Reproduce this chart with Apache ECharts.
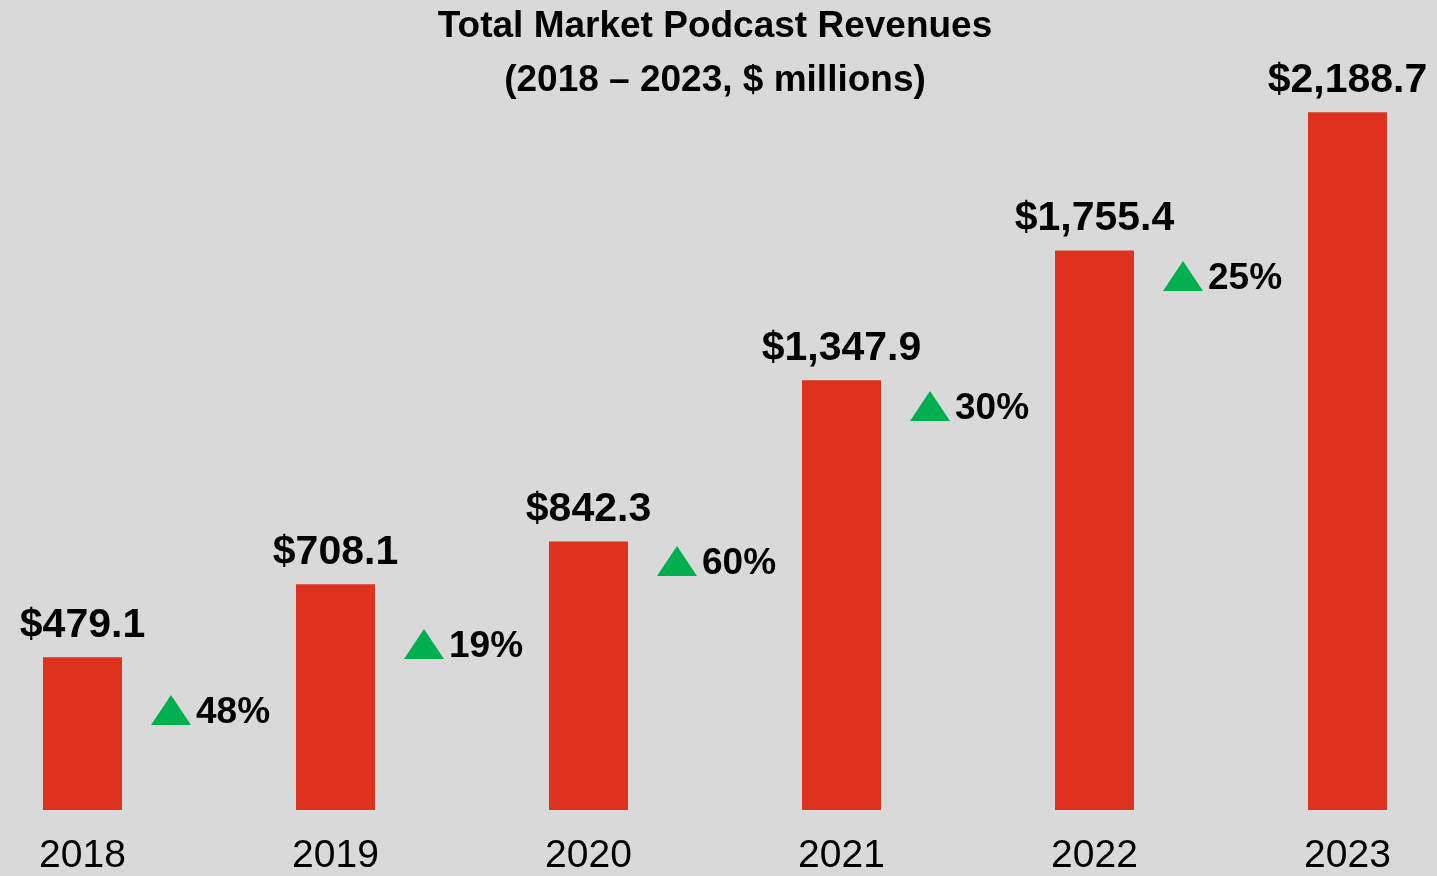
<!DOCTYPE html>
<html lang="en">
<head>
  <meta charset="UTF-8">
  <title>Total Market Podcast Revenues</title>
  <style>
    html, body {
      margin: 0;
      padding: 0;
      background: #d9d9d9;
      overflow: hidden;
    }
    /* the outer bands of the first/last year run past the page edge */
    #chart {
      width: 1518px;
      height: 876px;
      margin-left: -44.5px;
    }
  </style>
</head>
<body>
  <div id="chart"></div>
  <script src="https://cdn.jsdelivr.net/npm/echarts@6/dist/echarts.min.js"></script>
  <script>
    // data
    var years = ['2018', '2019', '2020', '2021', '2022', '2023']
    var revenues = [479.1, 708.1, 842.3, 1347.9, 1755.4, 2188.7]
    // year-over-year growth, shown between bars
    var growthPct = [48, 19, 60, 30, 25]
    // height (in $ millions) where each growth tag sits
    var growthLevel = [314, 521, 781, 1267, 1675]

    var font = "'Liberation Sans', Arial, Helvetica, sans-serif"

    var growthData = growthPct.map(function (p, i) {
      return { value: [i + 0.5, growthLevel[i]], pct: p }
    })

    var myChart = echarts.init(document.getElementById('chart'))
    var option = {
      backgroundColor: '#d9d9d9',
      animation: false,
      title: {
        text: 'Total Market Podcast Revenues\n(2018 – 2023, $ millions)',
        left: 'center',
        top: -5,
        textStyle: {
          fontFamily: font,
          fontSize: 37,
          fontWeight: 'bold',
          lineHeight: 54,
          color: '#000'
        }
      },
      grid: {
        left: 0,
        right: 0,
        top: 13,
        bottom: 66
      },
      xAxis: [
        {
          type: 'category',
          data: years,
          axisLine: { show: false },
          axisTick: { show: false },
          axisLabel: {
            margin: 27,
            fontFamily: font,
            fontSize: 39,
            color: '#000'
          }
        },
        {
          // helper axis so the growth tags can sit between two years
          type: 'value',
          min: -0.5,
          max: 5.5,
          show: false
        }
      ],
      yAxis: {
        type: 'value',
        min: 0,
        max: 2500,
        show: false,
        splitLine: { show: false }
      },
      series: [
        {
          type: 'bar',
          data: revenues,
          barWidth: 79,
          itemStyle: { color: '#df321e' },
          label: {
            show: true,
            position: 'top',
            distance: 11,
            fontFamily: font,
            fontSize: 41,
            fontWeight: 'bold',
            color: '#000',
            formatter: function (p) {
              return '$' + p.value.toLocaleString('en-US', { minimumFractionDigits: 1, maximumFractionDigits: 1 })
            }
          },
          silent: true
        },
        {
          type: 'scatter',
          xAxisIndex: 1,
          data: growthData,
          symbol: 'triangle',
          symbolSize: [40, 30],
          symbolOffset: [-38, 0],
          itemStyle: { color: '#00b050', opacity: 1 },
          label: {
            show: true,
            position: 'right',
            distance: 5,
            offset: [0, 3],
            fontFamily: font,
            fontSize: 37,
            fontWeight: 'bold',
            color: '#000',
            opacity: 1,
            formatter: function (p) {
              return p.data.pct + '%'
            }
          },
          silent: true
        }
      ]
    }
    myChart.setOption(option)
  </script>
</body>
</html>
